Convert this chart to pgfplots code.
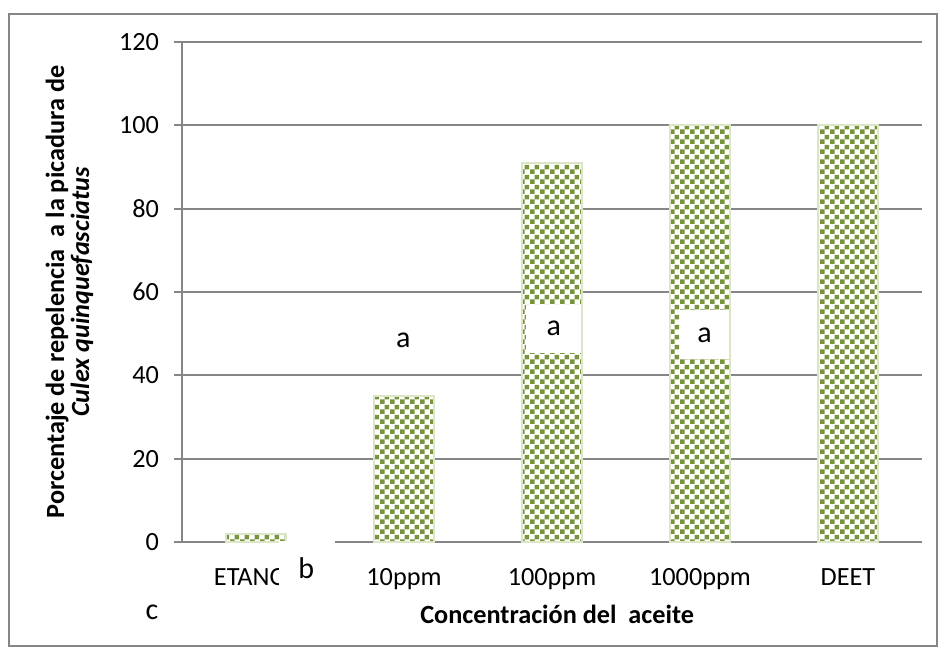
\documentclass[border=0pt]{standalone}
\usepackage{fontspec}
\setmainfont{Carlito}
\usepackage{pgfplots}
\pgfplotsset{compat=1.18}
\usetikzlibrary{patterns.meta}
\definecolor{olive}{HTML}{77933C}
\definecolor{gridgray}{HTML}{868686}
\definecolor{glow}{HTML}{DCE6C6}

% small checkerboard, squares of 2pt like the Excel fill
\tikzdeclarepattern{
  name=smallchecker, type=uncolored,
  bounding box={(0,0) and (4pt,4pt)},
  tile size={(4pt,4pt)},
  code={
    \fill (0,0) rectangle (2pt,2pt);
    \fill (2pt,2pt) rectangle (4pt,4pt);
  }
}

\begin{document}
\begin{tikzpicture}
  \begin{axis}[
    scale only axis, width=296pt, height=200pt,
    xmin=-0.5, xmax=4.5, ymin=0, ymax=120,
    ytick={0,20,...,120},
    xtick={0,...,4}, xticklabels={ETANOL,10ppm,100ppm,1000ppm,DEET},
    axis lines*=left,
    axis line style={gridgray,line width=0.8pt},
    ymajorgrids, grid style={gridgray,line width=0.8pt},
    major x tick style={draw=none},
    major y tick style={gridgray,line width=0.8pt},
    tick align=outside, major tick length=3.2pt,
    tick label style={font=\fontsize{10.5}{12}\selectfont},
    xticklabel style={yshift=-4pt},
    yticklabel style={xshift=-2.5pt},
    /pgf/number format/assume math mode=true,
    xlabel={Concentración del~ aceite},
    xlabel style={at={(axis description cs:0.507,-0.145)},anchor=center,font=\fontsize{10.5}{12}\selectfont\bfseries},
    ylabel={Porcentaje de repelencia~ a la picadura de\\ \textit{Culex quinquefasciatus}},
    ylabel style={at={(axis description cs:-0.152,0.5)},anchor=center,align=center,font=\fontsize{10.5}{10}\selectfont\bfseries},
    clip=false]
    \addplot[ybar, bar width=24pt, fill=white, draw=glow, line width=0.8pt,
      postaction={pattern=smallchecker, pattern color=olive}]
      coordinates {(0,2) (1,35) (2,91) (3,100) (4,100)};
    \coordinate (o) at (rel axis cs:0,0);
    \coordinate (lb) at (axis cs:0.345,-6.85);
    \coordinate (tb) at (axis cs:0.34,-6.3);
    \coordinate (lc) at (axis cs:-0.703,-16.8);
    \coordinate (la1) at (axis cs:0.995,48.3);
    \coordinate (la2) at (axis cs:2.013,51.2);
    \coordinate (la3) at (axis cs:3.03,49.7);
  \end{axis}
  \path ([shift={(-72.8pt,-44.8pt)}]o) rectangle ++(378.4pt,261.6pt);
  \draw[gridgray,line width=0.8pt] ([shift={(-69.2pt,-41.6pt)}]o) rectangle ++(371.2pt,252.8pt);
  \begin{scope}[every node/.style={font=\fontsize{12}{14}\selectfont,fill=white,inner sep=0pt,anchor=center}]
    \fill[white] ([shift={(-11.2pt,-11.8pt)}]lb) rectangle ++(22.4pt,23.6pt);
    \node at (tb) {b};
    \node at (lc) {c};
    \node at (la1) {a};
    \node[minimum width=22pt,minimum height=19.2pt] at (la2) {a};
    \node[minimum width=19.6pt,minimum height=19.6pt] at (la3) {a};
  \end{scope}
\end{tikzpicture}
\end{document}
